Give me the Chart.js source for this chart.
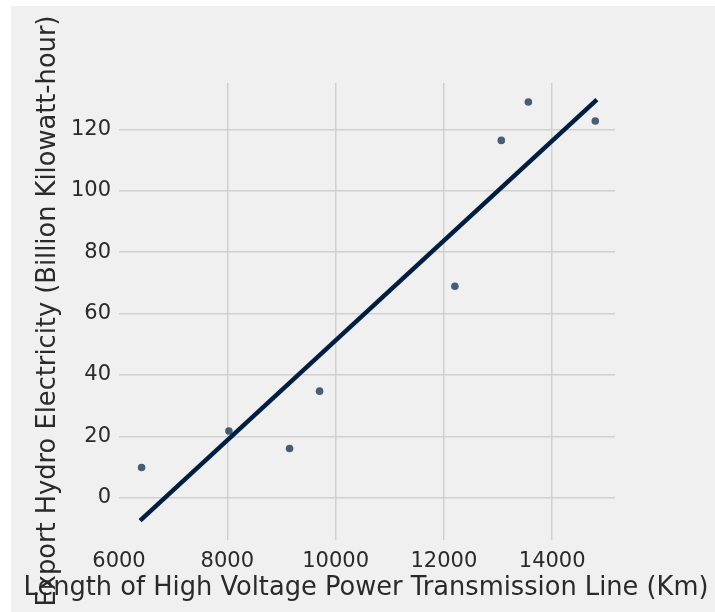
<!DOCTYPE html>
<html lang="en">
<head>
  <meta charset="UTF-8" />
  <title>Hydro Export vs Transmission Line</title>
  <script src="https://cdn.jsdelivr.net/npm/chart.js"></script>
  <style>
    body {
      margin: 0;
      background: #ffffff;
      font-family: "DejaVu Sans", sans-serif;
    }
    #wrap {
      position: absolute;
      left: 11px;
      top: 6px;
      width: 704px;
      height: 606px;
      background: #f0f0f0;
    }
  </style>
</head>
<body>
  <div id="wrap">
    <canvas id="chart" width="704" height="606"></canvas>
  </div>
  <script>
    // line length (km) and hydro export (billion kWh)
    const lineLength = [6417, 8030, 9150, 9704, 12203, 13060, 13560, 14796];
    const hydroExport = [9.8, 21.7, 16.0, 34.7, 68.9, 116.4, 128.9, 122.7];

    // fitted line end points
    const fitX = [6420, 14795];
    const fitY = [-7.0, 129.2];

    const xTicks = [6000, 8000, 10000, 12000, 14000];
    const yTicks = [0, 20, 40, 60, 80, 100, 120];

    const xTitle = "Length of High Voltage Power Transmission Line (Km)";
    const yTitle = "Export Hydro Electricity (Billion Kilowatt-hour)";

    const textColor = "#2a2a2a";
    const gridColor = "#d0d0d0";

    // axis titles drawn by hand so they can overlap like the original
    const axisTitles = {
      id: "axisTitles",
      afterDraw(chart) {
        const ctx = chart.ctx;
        ctx.save();
        ctx.fillStyle = textColor;
        ctx.font = '25.7px "DejaVu Sans"';
        ctx.textAlign = "center";
        ctx.textBaseline = "middle";
        ctx.fillText(xTitle, 355, 582);
        ctx.translate(37, 305);
        ctx.rotate(-Math.PI / 2);
        ctx.fillText(yTitle, 0, 0);
        ctx.restore();
      }
    };

    new Chart(document.getElementById("chart"), {
      type: "scatter",
      data: {
        datasets: [
          {
            type: "line",
            data: fitX.map((x, i) => ({ x: x, y: fitY[i] })),
            borderColor: "#001e42",
            borderWidth: 4.5,
            borderCapStyle: "square",
            pointRadius: 0,
            fill: false
          },
          {
            data: lineLength.map((x, i) => ({ x: x, y: hydroExport[i] })),
            backgroundColor: "rgba(0, 30, 66, 0.7)",
            borderWidth: 0,
            pointRadius: 3.8
          }
        ]
      },
      options: {
        responsive: false,
        animation: false,
        layout: { padding: { top: 77, right: 100, left: 0, bottom: 0 } },
        plugins: { legend: { display: false }, tooltip: { enabled: false } },
        scales: {
          x: {
            type: "linear",
            min: 6000,
            max: 15160,
            afterBuildTicks: s => { s.ticks = xTicks.map(v => ({ value: v })); },
            afterFit: s => { s.height = 72; },
            border: { display: false },
            grid: {
              color: c => (c.tick && c.tick.value === 6000 ? "rgba(0,0,0,0)" : gridColor),
              lineWidth: 1.5,
              drawTicks: false
            },
            ticks: {
              color: textColor,
              font: { family: "DejaVu Sans", size: 21 },
              padding: 9,
              maxRotation: 0,
              callback: v => String(v)
            }
          },
          y: {
            min: -13.8,
            max: 135.1,
            afterBuildTicks: s => { s.ticks = yTicks.map(v => ({ value: v })); },
            afterFit: s => { s.width = 108; },
            border: { display: false },
            grid: { color: gridColor, lineWidth: 1.5, drawTicks: false },
            ticks: {
              color: textColor,
              font: { family: "DejaVu Sans", size: 21 },
              padding: 8,
              callback: v => String(v)
            }
          }
        }
      },
      plugins: [axisTitles]
    });
  </script>
</body>
</html>
